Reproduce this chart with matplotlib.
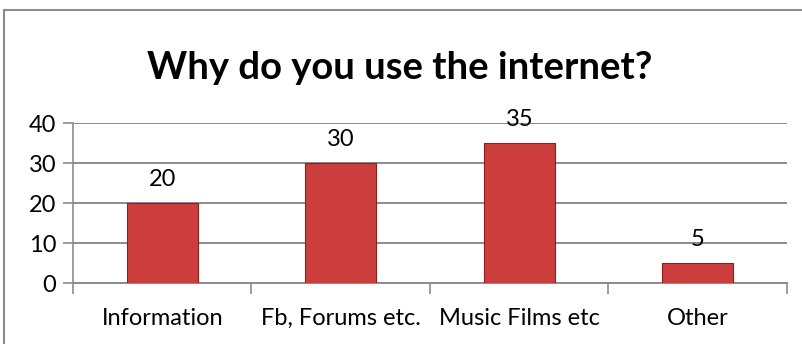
import numpy as np
import matplotlib.pyplot as plt
from matplotlib.patches import Rectangle

categories = ["Information", "Fb, Forums etc.", "Music Films etc", "Other"]
values = [20, 30, 35, 5]
y_ticks = [0, 10, 20, 30, 40]

plt.rcParams['font.family'] = ['Lato', 'DejaVu Sans']

fig = plt.figure(figsize=(8.03, 3.44), dpi=100)
ax = fig.add_axes([73 / 803, 1 - 283 / 344, (787 - 73) / 803, 160 / 344])

x = np.arange(len(categories))
bars = ax.bar(x, values, width=0.40, color='#CC3E3E', edgecolor='#8E1E1E',
              linewidth=0.8, zorder=3)

for b, v in zip(bars, values):
    ax.annotate(str(v), (b.get_x() + b.get_width() / 2, v), xytext=(0, 9),
                textcoords='offset points', ha='center', va='bottom',
                fontsize=17, color='black')

ax.set_xlim(-0.5, len(categories) - 0.5)
ax.set_ylim(0, 40)
ax.set_yticks(y_ticks)
ax.yaxis.grid(True, color='#8c8c8c', linewidth=1.4, zorder=0)
ax.set_axisbelow(True)

# category boundary ticks
ax.set_xticks(np.arange(-0.5, len(categories)), minor=False)
ax.set_xticklabels([])
ax.set_xticks(x, minor=True)
ax.set_xticklabels(categories, minor=True, fontsize=17)
ax.tick_params(axis='x', which='minor', length=0, pad=18)
ax.tick_params(axis='x', which='major', length=8, color='#8c8c8c', width=1.2)
ax.tick_params(axis='y', length=7, color='#8c8c8c', width=1.2, labelsize=17, pad=5)

for s in ['top', 'right']:
    ax.spines[s].set_visible(False)
ax.spines['left'].set_color('#8c8c8c')
ax.spines['left'].set_linewidth(1.2)
ax.spines['bottom'].set_color('#8c8c8c')
ax.spines['bottom'].set_linewidth(1.4)

fig.text(400 / 803, 1 - 68 / 344, "Why do you use the internet?", ha='center',
         va='center', fontsize=27.5, fontweight='bold')

# chart frame (cropped: only top and left visible)
fig.add_artist(Rectangle((4 / 803, -0.1), 1.2, 1 - 10.5 / 344 + 0.1,
                         transform=fig.transFigure, fill=False,
                         edgecolor='#8c8c8c', linewidth=1.5))

fig.savefig('out.png', dpi=100)
